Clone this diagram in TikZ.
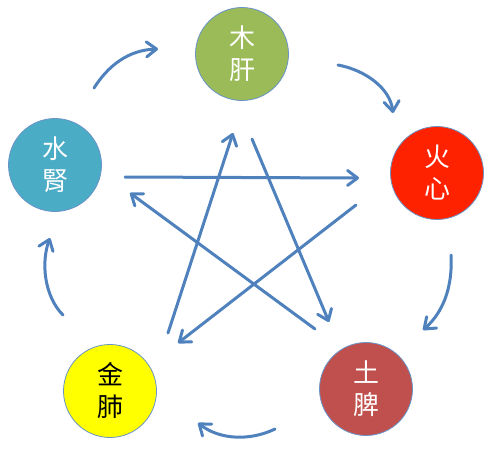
\documentclass[tikz,border=0pt]{standalone}
\usepackage{fontspec}
\newfontfamily\cjk{Noto Sans CJK TC}
\usetikzlibrary{arrows.meta}
\definecolor{arrowblue}{HTML}{4F81BD}
\definecolor{mugreen}{HTML}{9BBB59}
\definecolor{shuiblue}{HTML}{4BACC6}
\definecolor{huored}{HTML}{FF2200}
\definecolor{jinyellow}{HTML}{FFFF00}
\definecolor{tured}{HTML}{C0504D}
\begin{document}
\begin{tikzpicture}[x=1pt,y=-1pt,
  organ/.style={circle, draw=arrowblue!85, line width=0.8pt, minimum size=93pt,
    inner sep=0pt, align=center, font=\cjk\fontsize{26}{32}\selectfont, text=white},
  flow/.style={draw=arrowblue, line width=3pt, line cap=round, line join=round,
    -{Straight Barb[length=10pt,width=15pt,line cap=round,line join=round]}}]
\useasboundingbox (0,0) rectangle (490,450);

% organs
\node[organ, fill=mugreen]   (mu)   at (242,54)  {木\\肝};
\node[organ, fill=huored]    (huo)  at (437,173) {火\\心};
\node[organ, fill=tured]     (tu)   at (366,389) {土\\脾};
\node[organ, fill=jinyellow, text=black] (jin) at (110,391) {金\\肺};
\node[organ, fill=shuiblue]  (shui) at (55,165)  {水\\腎};

% outer cycle endpoints
\coordinate (c1s) at (94,88);   \coordinate (c1e) at (158,49);
\coordinate (c2s) at (338,65);  \coordinate (c2e) at (393,113);
\coordinate (c3s) at (451,255); \coordinate (c3e) at (423,330);
\coordinate (c4s) at (275,429); \coordinate (c4e) at (198,423);
\coordinate (c5s) at (63,315);  \coordinate (c5e) at (50,238);

\draw[flow] (c1s) .. controls (108,66) and (128,50) .. (c1e);
\draw[flow] (c2s) .. controls (365,70) and (390,88) .. (c2e);
\draw[flow] (c3s) .. controls (453,292) and (440,315) .. (c3e);
\draw[flow] (c4s) .. controls (250,441) and (220,440) .. (c4e);
\draw[flow] (c5s) .. controls (44,296) and (41,262) .. (c5e);

% star endpoints
\coordinate (s1s) at (125,177); \coordinate (s1e) at (359,178);
\coordinate (s2s) at (356,205); \coordinate (s2e) at (178,343);
\coordinate (s3s) at (315,329); \coordinate (s3e) at (130,193);
\coordinate (s4s) at (168,333); \coordinate (s4e) at (233,133);
\coordinate (s5s) at (252,139); \coordinate (s5e) at (329,322);

\draw[flow] (s1s) -- (s1e);
\draw[flow] (s2s) -- (s2e);
\draw[flow] (s3s) -- (s3e);
\draw[flow] (s4s) -- (s4e);
\draw[flow] (s5s) -- (s5e);
\end{tikzpicture}
\end{document}
